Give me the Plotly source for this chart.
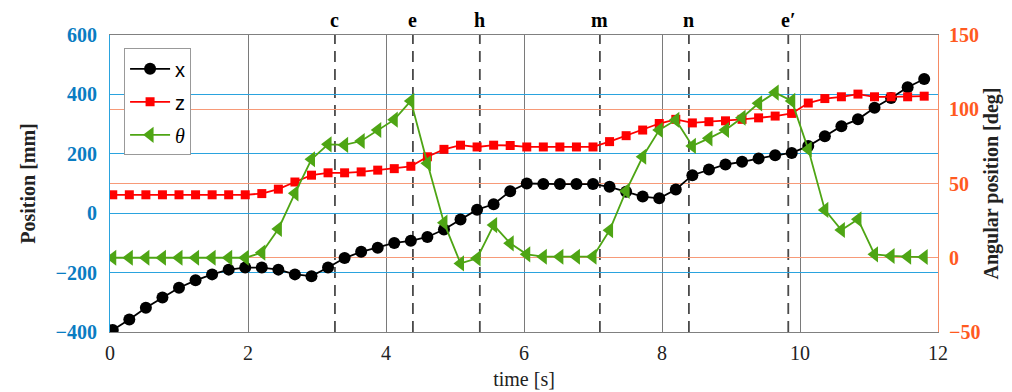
import plotly.graph_objects as go

# ---- data ----
time_s = [0.04, 0.28, 0.52, 0.76, 1.00, 1.24, 1.48, 1.72, 1.96, 2.20,
          2.44, 2.68, 2.92, 3.16, 3.40, 3.64, 3.88, 4.12, 4.36, 4.60,
          4.84, 5.08, 5.32, 5.56, 5.80, 6.04, 6.28, 6.52, 6.76, 7.00,
          7.24, 7.48, 7.72, 7.96, 8.20, 8.44, 8.68, 8.92, 9.16, 9.40,
          9.64, 9.88, 10.12, 10.36, 10.60, 10.84, 11.08, 11.32, 11.56, 11.80]

x_mm = [-393, -358, -318, -284, -251, -226, -206, -190, -183, -183,
        -190, -206, -212, -183, -151, -130, -116, -100, -93, -80,
        -55, -21, 12, 30, 74, 100, 98, 98, 98, 98,
        89, 72, 56, 50, 80, 128, 147, 164, 173, 184,
        195, 203, 226, 259, 293, 316, 355, 388, 424, 452]

z_mm = [62, 62, 62, 62, 62, 62, 62, 62, 62, 66,
        81, 105, 128, 136, 136, 139, 145, 150, 158, 190,
        215, 229, 223, 229, 228, 223, 223, 223, 223, 223,
        241, 261, 280, 302, 316, 304, 308, 311, 316, 321,
        327, 336, 371, 386, 392, 401, 392, 392, 392, 394]

theta_deg = [0, 0, 0, 0, 0, 0, 0, 0, 0, 3.4,
             19.4, 43.4, 66.3, 76.4, 76, 78.6, 86, 93, 105.6, 63.6,
             23.6, -3.8, -0.4, 22, 9.7, 2.3, 0.7, 0.7, 0.7, 0.7,
             18.5, 45, 68, 86, 92.8, 75.3, 80.4, 86, 94.3, 104,
             111.2, 105.6, 73, 32.2, 18.7, 25.9, 2.3, 1.2, 0.7, 0.5]

event_labels = ["c", "e", "h", "m", "n", "e\u2032"]
event_times = [3.26, 4.39, 5.36, 7.10, 8.39, 9.83]

x_ticks = [0, 2, 4, 6, 8, 10, 12]
left_ticks = [-400, -200, 0, 200, 400, 600]
right_ticks = [-50, 0, 50, 100, 150]

# ---- styles ----
BLUE_TXT = "#0a7cc2"
BLUE_GRID = "#2aa3de"
ORANGE_TXT = "#ff5a1f"
ORANGE_GRID = "#f79a78"
ORANGE_AXIS = "#f58a64"
GREEN = "#4ea514"
SERIF = "Liberation Serif"
SANS = "Liberation Sans"

fig = go.Figure()

fig.add_trace(go.Scatter(
    x=time_s, y=x_mm, name="x", mode="lines+markers",
    line=dict(color="black", width=1.8),
    marker=dict(symbol="circle", size=12, color="black"),
    legendgroup="a"))
fig.add_trace(go.Scatter(
    x=time_s, y=z_mm, name="z", mode="lines+markers",
    line=dict(color="#ff0000", width=1.8),
    marker=dict(symbol="square", size=9, color="#ff0000"),
    legendgroup="b"))
fig.add_trace(go.Scatter(
    x=time_s, y=theta_deg, name="<span style='font-family:Liberation Serif'><i>θ</i></span>",
    mode="lines+markers", yaxis="y2",
    line=dict(color=GREEN, width=1.8),
    marker=dict(symbol="triangle-left", size=14, color=GREEN),
    legendgroup="c"))

# dashed event lines and labels
for lab, tv in zip(event_labels, event_times):
    fig.add_shape(type="line", xref="x", yref="paper", x0=tv, x1=tv, y0=0, y1=1,
                  line=dict(color="#4a4a4a", width=1.8, dash="11px,7px"), layer="between")
    fig.add_annotation(x=tv, y=1, xref="x", yref="paper", yanchor="bottom",
                       yshift=2, text="<b>" + lab + "</b>", showarrow=False,
                       font=dict(family=SERIF, size=20, color="black"))

fig.update_layout(
    width=1004, height=384,
    margin=dict(l=102, r=74, t=27, b=60),
    paper_bgcolor="white", plot_bgcolor="white",
    showlegend=True,
    legend=dict(x=0.017, y=0.955, xanchor="left", yanchor="top",
                bgcolor="white", bordercolor="#999999", borderwidth=1,
                font=dict(family=SANS, size=20, color="black"),
                tracegroupgap=4, itemwidth=40),
    xaxis=dict(range=[0, 12], tickvals=x_ticks, ticktext=[str(v) for v in x_ticks],
               automargin=False,
               showgrid=True, gridcolor="#7a7a7a", gridwidth=1,
               showline=True, linecolor="#808080", linewidth=1, mirror=True,
               zeroline=False, ticks="", ticklabelstandoff=3,
               tickfont=dict(family=SERIF, size=20, color="#222222"),
               title=dict(text="time [s]", font=dict(family=SERIF, size=20, color="#222222"),
                          standoff=8)),
    yaxis=dict(range=[-400, 600], tickvals=left_ticks,
               ticktext=[("\u2212" + str(-v)) if v < 0 else str(v) for v in left_ticks],
               automargin=False,
               showgrid=True, gridcolor=BLUE_GRID, gridwidth=1,
               showline=True, linecolor=BLUE_GRID, linewidth=1,
               zeroline=False, ticks="", ticklabelstandoff=8,
               tickfont=dict(family=SERIF, size=20, color=BLUE_TXT, weight="bold"),
               title=dict(text="<b>Position [mm]</b>",
                          font=dict(family=SERIF, size=20, color="#222222"), standoff=14)),
    yaxis2=dict(range=[-50, 150], tickvals=right_ticks,
                ticktext=[("\u2212" + str(-v)) if v < 0 else str(v) for v in right_ticks],
                overlaying="y", side="right", automargin=False,
                showgrid=True, gridcolor=ORANGE_GRID, gridwidth=1,
                showline=True, linecolor=ORANGE_AXIS, linewidth=1,
                zeroline=False, ticks="", ticklabelstandoff=6,
                tickfont=dict(family=SERIF, size=20, color=ORANGE_TXT, weight="bold"),
                title=dict(text="<b>Angular position [deg]</b>",
                           font=dict(family=SERIF, size=20, color="#222222"), standoff=4)),
)

fig.write_html("out.html")
